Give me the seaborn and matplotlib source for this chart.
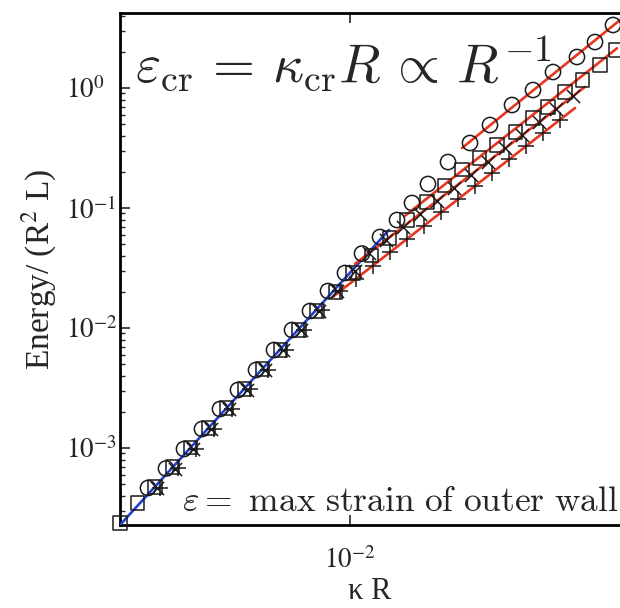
import numpy as np
import pandas as pd
import matplotlib
matplotlib.use("Agg")
import matplotlib.pyplot as plt
import seaborn as sns
from matplotlib.ticker import FixedLocator, NullLocator, FuncFormatter, LogLocator

# ---------------- data ----------------
circ_x = [1.899e-3, 2.202e-3, 2.554e-3, 2.961e-3, 3.434e-3, 3.981e-3, 4.617e-3, 5.354e-3,
          6.208e-3, 7.197e-3, 8.346e-3, 9.597e-3, 1.104e-2, 1.280e-2, 1.472e-2, 1.665e-2,
          1.899e-2, 2.239e-2, 2.683e-2, 3.162e-2, 3.790e-2, 4.504e-2, 5.309e-2, 6.466e-2,
          7.499e-2, 8.694e-2]
circ_y = [4.642e-4, 6.750e-4, 9.81e-4, 1.440e-3, 2.113e-3, 3.043e-3, 4.467e-3, 6.556e-3,
          9.624e-3, 1.386e-2, 2.034e-2, 2.873e-2, 4.176e-2, 5.733e-2, 7.943e-2, 0.1101,
          0.1585, 0.2416, 0.3481, 0.4916, 0.7215, 0.9624, 1.359, 1.813, 2.416, 3.350]

sq_x = [1.509e-3, 1.749e-3, 2.012e-3, 2.332e-3, 2.704e-3, 3.136e-3, 3.637e-3, 4.217e-3,
        4.890e-3, 5.670e-3, 6.575e-3, 7.624e-3, 8.842e-3, 1.025e-2, 1.198e-2, 1.389e-2,
        1.598e-2, 1.884e-2, 2.184e-2, 2.512e-2, 2.912e-2, 3.350e-2, 3.885e-2, 4.504e-2,
        5.095e-2, 5.860e-2, 6.741e-2, 7.814e-2, 8.842e-2]
sq_y = [2.371e-4, 3.481e-4, 4.732e-4, 6.946e-4, 1.010e-3, 1.468e-3, 2.154e-3, 3.102e-3,
        4.552e-3, 6.556e-3, 9.624e-3, 1.386e-2, 1.995e-2, 2.873e-2, 4.057e-2, 5.623e-2,
        7.943e-2, 0.1122, 0.1554, 0.2074, 0.2610, 0.3350, 0.4299, 0.5623, 0.6944, 0.9261,
        1.166, 1.555, 2.073]

x_x = [2.045e-3, 2.371e-3, 2.750e-3, 3.189e-3, 3.698e-3, 4.287e-3, 4.970e-3, 5.764e-3,
       6.683e-3, 7.750e-3, 8.987e-3, 1.042e-2, 1.169e-2, 1.345e-2, 1.546e-2, 1.778e-2,
       2.045e-2, 2.352e-2, 2.704e-2, 3.111e-2, 3.578e-2, 4.115e-2, 4.732e-2, 5.441e-2,
       6.258e-2]
x_y = [4.642e-4, 6.683e-4, 9.81e-4, 1.440e-3, 2.113e-3, 3.043e-3, 4.467e-3, 6.556e-3,
       9.624e-3, 1.386e-2, 2.034e-2, 2.985e-2, 4.217e-2, 5.412e-2, 6.946e-2, 8.913e-2,
       0.1144, 0.1468, 0.1898, 0.2440, 0.3138, 0.4035, 0.5207, 0.6683, 0.8577]

plus_x = [2.096e-3, 2.430e-3, 2.818e-3, 3.268e-3, 3.790e-3, 4.394e-3, 5.095e-3, 5.907e-3,
          6.850e-3, 7.943e-3, 9.211e-3, 1.051e-2, 1.208e-2, 1.389e-2, 1.598e-2, 1.838e-2,
          2.113e-2, 2.430e-2, 2.796e-2, 3.215e-2, 3.698e-2, 4.252e-2, 4.890e-2, 5.623e-2]
plus_y = [4.642e-4, 6.761e-4, 9.886e-4, 1.440e-3, 2.113e-3, 3.078e-3, 4.500e-3, 6.556e-3,
          9.624e-3, 1.402e-2, 2.034e-2, 2.561e-2, 3.317e-2, 4.299e-2, 5.517e-2, 7.079e-2,
          9.173e-2, 0.1189, 0.1525, 0.1969, 0.2541, 0.3286, 0.4217, 0.5443]

# fitted lines (end points)
blue_x = [1.509e-3, 1.378e-2]
blue_y = [2.282e-4, 6.556e-2]
red_circ_x = [2.512e-2, 9.597e-2]
red_circ_y = [0.3162, 3.981]
red_sq_x = [1.572e-2, 8.987e-2]
red_sq_y = [8.610e-2, 2.142]
red_x_x = [1.042e-2, 6.909e-2]
red_x_y = [3.421e-2, 1.023]
red_plus_x = [8.695e-3, 6.362e-2]
red_plus_y = [1.823e-2, 0.6813]

x_limits = [1.509e-3, 9.21e-2]
y_limits = [2.282e-4, 4.217]
y_major = [1e-3, 1e-2, 1e-1, 1e0]
x_major = [1e-2]

title_text = r"$\varepsilon_{\rm cr}\,=\,\kappa_{\rm cr} R\,\propto\,R^{-1}$"
note_text = r"$\varepsilon = \ \mathrm{max\ strain\ of\ outer\ wall}$"
x_label = "κ R"
y_label = r"Energy/ (R$^2$ L)"

# ---------------- styling ----------------
sns.set_theme(style="white")
plt.rcParams["font.family"] = ["Liberation Serif", "DejaVu Serif"]
plt.rcParams["mathtext.fontset"] = "stix"

RED = "#e8351f"
BLUE = "#1f3fd6"
MK = "#1a1a1a"

fig = plt.figure(figsize=(6.2, 6.08), dpi=100)
ax = fig.add_axes([120 / 620, 83 / 608, 500 / 620, 512 / 608])
ax.set_xscale("log")
ax.set_yscale("log")

# lines
sns.lineplot(x=blue_x, y=blue_y, color=BLUE, lw=1.9, ax=ax, sort=False, zorder=3)
for lx, ly in [(red_circ_x, red_circ_y), (red_sq_x, red_sq_y),
               (red_x_x, red_x_y), (red_plus_x, red_plus_y)]:
    sns.lineplot(x=lx, y=ly, color=RED, lw=1.9, ax=ax, sort=False, zorder=3)

# markers
sns.scatterplot(x=circ_x, y=circ_y, marker="o", s=120, facecolors="none",
                edgecolors=MK, linewidths=1.1, ax=ax, zorder=4, clip_on=False)
sns.scatterplot(x=sq_x, y=sq_y, marker="s", s=88, facecolors="none",
                edgecolors=MK, linewidths=1.1, ax=ax, zorder=4, clip_on=False)
sns.scatterplot(x=x_x, y=x_y, marker="x", s=90, color=MK,
                linewidths=1.1, ax=ax, zorder=4, clip_on=False)
sns.scatterplot(x=plus_x, y=plus_y, marker="+", s=130, color=MK,
                linewidths=1.1, ax=ax, zorder=4, clip_on=False)

ax.set_xlim(x_limits)
ax.set_ylim(y_limits)

fmt = FuncFormatter(lambda v, p: r"$10^{%d}$" % int(round(np.log10(v))))
ax.yaxis.set_major_locator(FixedLocator(y_major))
ax.yaxis.set_major_formatter(fmt)
ax.yaxis.set_minor_locator(LogLocator(base=10, subs=np.arange(2, 10), numticks=20))
ax.xaxis.set_major_locator(FixedLocator(x_major))
ax.xaxis.set_major_formatter(fmt)
ax.xaxis.set_minor_locator(NullLocator())

for s in ["left", "bottom", "top"]:
    ax.spines[s].set_linewidth(2.0)
    ax.spines[s].set_color("black")
ax.spines["right"].set_visible(False)

ax.tick_params(axis="y", which="major", direction="in", length=7, width=1.2,
               labelsize=19.5, pad=39, left=True)
ax.tick_params(axis="y", which="minor", direction="in", length=3.5, width=1.0, left=True)
ax.tick_params(axis="x", which="major", direction="in", length=7, width=1.2,
               labelsize=19.5, pad=16, bottom=True, top=True)
for lab in ax.get_yticklabels():
    lab.set_horizontalalignment("left")

ax.set_xlabel(x_label, fontsize=22, labelpad=2)
ax.set_ylabel(y_label, fontsize=24)
ax.yaxis.set_label_coords(-0.122, 0.5)

fig.text(135 / 620, 1 - 82 / 608, title_text, fontsize=39, ha="left", va="baseline",
         math_fontfamily="cm")
fig.text(182 / 620, 1 - 511 / 608, note_text, fontsize=25.5, ha="left", va="baseline",
         math_fontfamily="cm")

fig.savefig("out.png", dpi=100)
